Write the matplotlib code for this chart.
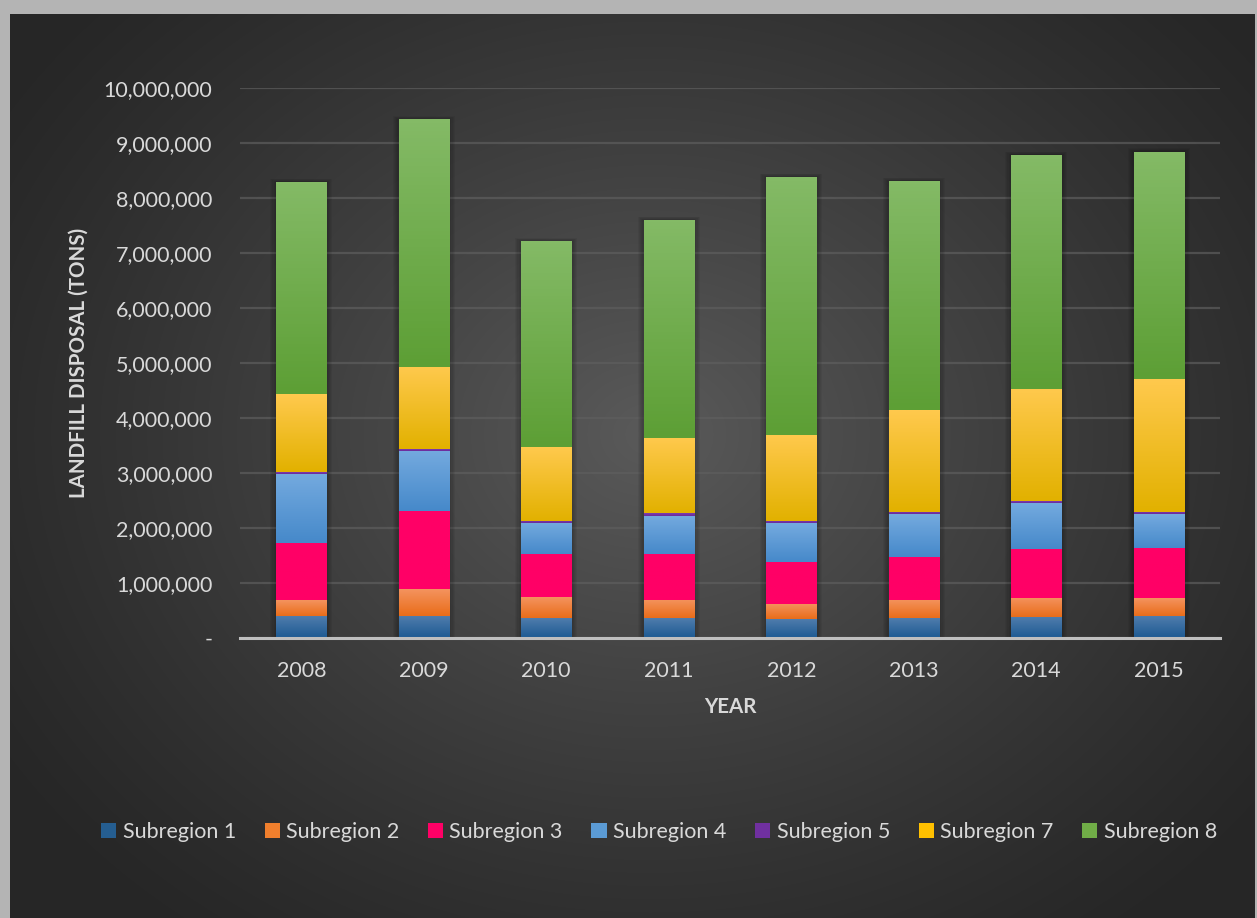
import numpy as np
import matplotlib as mpl
import matplotlib.pyplot as plt
from matplotlib.colors import LinearSegmentedColormap, to_rgb
from matplotlib.ticker import FuncFormatter

years = ['2008', '2009', '2010', '2011', '2012', '2013', '2014', '2015']
series_names = ['Subregion 1', 'Subregion 2', 'Subregion 3', 'Subregion 4',
                'Subregion 5', 'Subregion 7', 'Subregion 8']

# tons per subregion and year
subregion_1 = [395000, 395000, 358000, 358000, 340000, 358000, 376000, 395000]
subregion_2 = [291000, 491000, 382000, 328000, 273000, 328000, 346000, 327000]
subregion_3 = [1037000, 1419000, 780000, 834000, 767000, 782000, 892000, 910000]
subregion_4 = [1257000, 1097000, 567000, 700000, 700000, 777000, 831000, 618000]
subregion_5 = [30000, 31000, 40000, 40000, 40000, 40000, 35000, 37000]
subregion_7 = [1415000, 1492000, 1343000, 1370000, 1570000, 1855000, 2044000, 2419000]
subregion_8 = [3865000, 4505000, 3740000, 3970000, 4690000, 4170000, 4256000, 4134000]

# (top colour, bottom colour) of every segment's gradient
gradients = [
    ('#4f7cac', '#1d5a93'),
    ('#f4935e', '#e96d1a'),
    ('#ff0066', '#ff0066'),
    ('#74aadf', '#4689ca'),
    ('#7d3cb0', '#6a2b9a'),
    ('#ffc94d', '#e2b100'),
    ('#84ba66', '#5d9f35'),
]
legend_colors = ['#255e91', '#f07f2d', '#ff0066', '#5b9bd5', '#7030a0', '#ffc000', '#70ad47']

plt.rcParams['font.family'] = ['Lato', 'DejaVu Sans']
text_color = '#d9d9d9'

W, H = 1257, 918
fig = plt.figure(figsize=(W / 100, H / 100), dpi=100, facecolor='#b4b4b4')

# dark panel with a soft radial glow in the middle
bg = fig.add_axes([10 / W, 0, (1255 - 10) / W, (H - 14) / H], zorder=-10)
yy, xx = np.mgrid[0:904, 0:1245]
cx, cy = 640, 420
dist = np.sqrt(((xx - cx) / 780) ** 2 + ((yy - cy) / 640) ** 2)
glow = np.clip(1 - dist, 0, 1) ** 1.2
dark = np.array(to_rgb('#262626'))
light = np.array(to_rgb('#5a5a5a'))
img = dark + (light - dark) * glow[..., None]
bg.imshow(img, aspect='auto', extent=[0, 1, 0, 1], origin='upper')
bg.set_axis_off()

ax = fig.add_axes([240 / W, (H - 637.7) / H, 980 / W, 549.7 / H])
ax.set_facecolor('none')

series = [subregion_1, subregion_2, subregion_3, subregion_4,
          subregion_5, subregion_7, subregion_8]
x = np.arange(len(years))
bottom = np.zeros(len(years))
width = 0.41

# soft shadow beside each stacked column
totals = np.sum(np.array(series, dtype=float), axis=0)
for k in range(5):
    grow = 0.01 * (k + 1)
    ax.bar(x, totals + 12000 * (k + 1), width=width + 2 * grow, bottom=0,
           color='black', alpha=0.05, zorder=1, linewidth=0)

for vals, (top_c, bot_c), name in zip(series, gradients, series_names):
    bars = ax.bar(x, vals, width=width, bottom=bottom, color='none',
                  linewidth=0, zorder=3, label=name)
    cmap = LinearSegmentedColormap.from_list(name, [bot_c, top_c])
    grad = np.linspace(0, 1, 64).reshape(-1, 1)
    for patch in bars:
        x0, y0 = patch.get_x(), patch.get_y()
        w, h = patch.get_width(), patch.get_height()
        im = ax.imshow(grad, cmap=cmap, aspect='auto', origin='lower',
                       extent=[x0, x0 + w, y0, y0 + h], zorder=3)
        im.set_clip_path(patch)
    bottom = bottom + np.array(vals)

ax.set_xlim(-0.5, len(years) - 0.5)
ax.set_ylim(0, 10_000_000)
ax.set_yticks(np.arange(0, 10_000_001, 1_000_000))
ax.yaxis.set_major_formatter(FuncFormatter(lambda v, p: '-' if v == 0 else f'{v:,.0f}'))
ax.set_xticks(x)
ax.set_xticklabels(years)
ax.grid(axis='y', color='#5e5e5e', linewidth=1.6, alpha=0.7, zorder=0)
ax.set_axisbelow(True)
for side in ['top', 'right', 'left']:
    ax.spines[side].set_visible(False)
ax.spines['bottom'].set_color('#bfbfbf')
ax.spines['bottom'].set_linewidth(2.2)
ax.spines['bottom'].set_zorder(5)
ax.tick_params(axis='both', length=0, colors=text_color, labelsize=15.5)
ax.tick_params(axis='y', pad=20)
ax.tick_params(axis='x', pad=16.5)

ax.set_ylabel('LANDFILL DISPOSAL (TONS)', color=text_color, fontsize=14.8,
              fontweight='bold', labelpad=11)
ax.set_xlabel('YEAR', color=text_color, fontsize=14.8, fontweight='bold', labelpad=12)

handles = [mpl.patches.Patch(facecolor=c, edgecolor='none') for c in legend_colors]
leg = fig.legend(handles, series_names, loc='center', bbox_to_anchor=(659 / W, (H - 832) / H),
                 ncol=7, frameon=False, fontsize=15.5, labelcolor=text_color,
                 handlelength=0.7, handleheight=0.7, handletextpad=0.3, columnspacing=1.33)

fig.savefig('out.png', dpi=100, facecolor=fig.get_facecolor())
